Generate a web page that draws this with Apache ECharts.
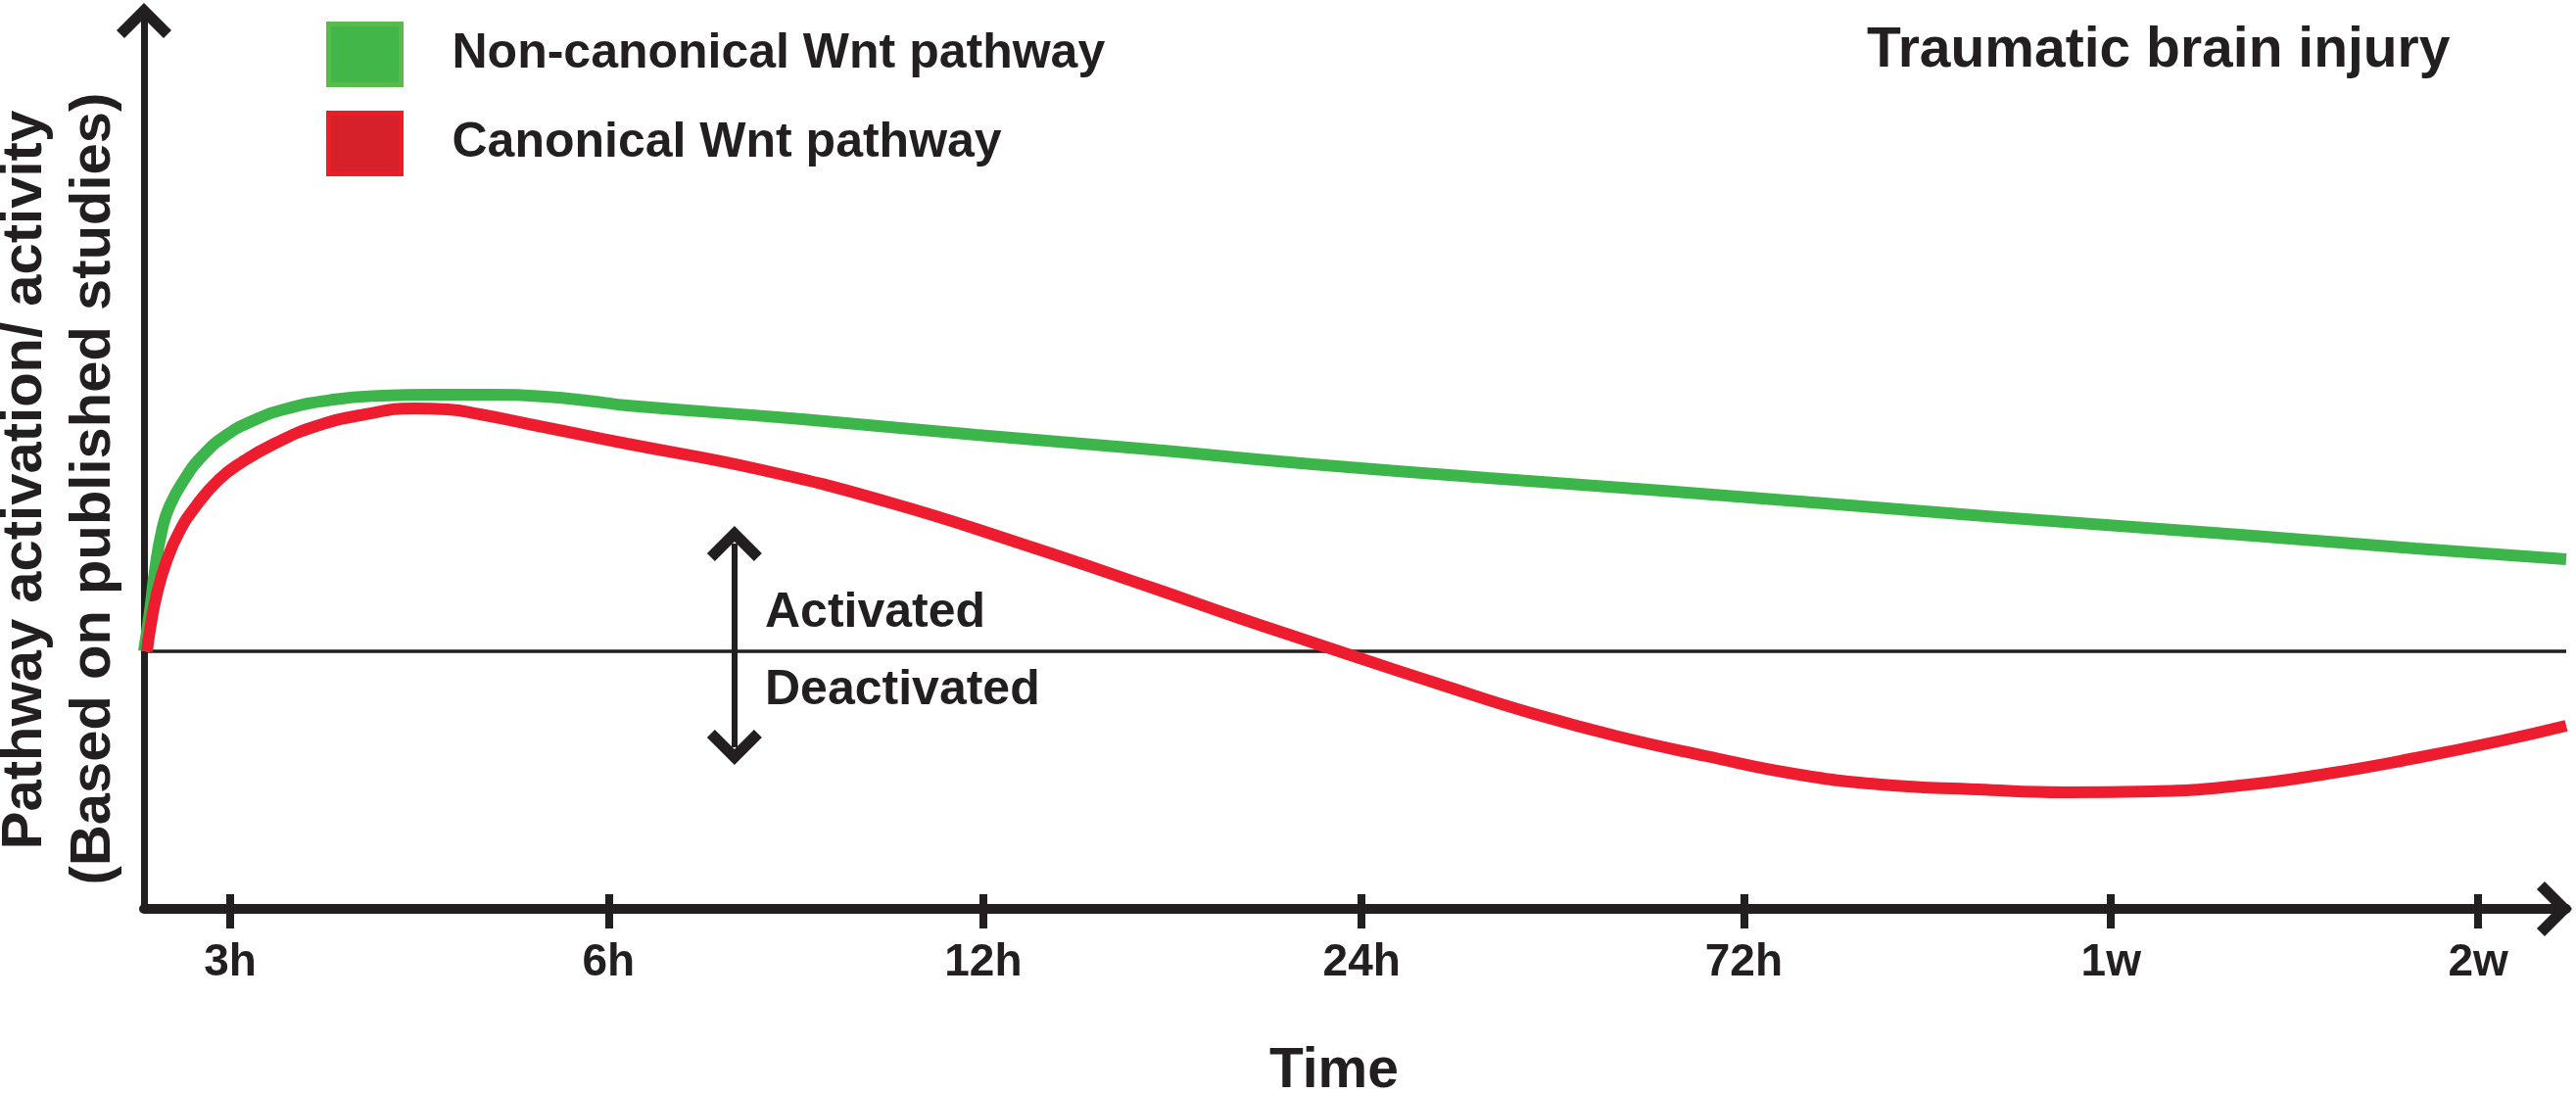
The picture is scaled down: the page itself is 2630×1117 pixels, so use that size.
<!DOCTYPE html>
<html>
<head>
<meta charset="utf-8">
<title>Traumatic brain injury - Wnt pathway activity</title>
<script src="https://cdn.jsdelivr.net/npm/echarts@6/dist/echarts.min.js"></script>
<style>
    html, body {margin: 0; padding: 0; background: #fff;}
    #chart {width: 2630px; height: 1117px;}
</style>
</head>
<body>
<div id="chart"></div>
<script>
// tick positions along the time axis (3h = 1 ... 2w = 7, as drawn)
var tickLabels = ['3h', '6h', '12h', '24h', '72h', '1w', '2w'];
var tickPos = [1, 2.01, 3.01, 4.02, 5.04, 6.02, 7];

// Non-canonical Wnt pathway (activity, 0 = baseline)
var greenX = [0.770, 0.786, 0.799, 0.817, 0.838, 0.882, 0.927, 0.987, 1.058, 1.144, 1.275, 1.405, 1.536, 1.711,
    1.842, 1.973, 2.059, 2.527, 2.992, 3.460, 3.889, 4.357, 4.822, 5.290, 5.719, 6.365, 6.833, 7.235];
var greenY = [0, 0.42, 0.82, 1.22, 1.48, 1.78, 2.00, 2.20, 2.35, 2.47, 2.57, 2.61, 2.62, 2.62,
    2.60, 2.55, 2.51, 2.37, 2.21, 2.06, 1.91, 1.77, 1.64, 1.50, 1.37, 1.19, 1.05, 0.94];

// Canonical Wnt pathway
var redX = [0.778, 0.786, 0.804, 0.830, 0.864, 0.908, 0.969, 1.031, 1.118, 1.230, 1.361, 1.492, 1.580, 1.667,
    1.797, 1.928, 2.059, 2.409, 2.759, 3.110, 3.460, 3.693, 3.889, 4.007, 4.239, 4.472, 4.705, 4.940,
    5.173, 5.405, 5.664, 5.899, 6.132, 6.365, 6.597, 6.833, 7.065, 7.235];
var redY = [0, 0.22, 0.58, 0.92, 1.22, 1.48, 1.75, 1.93, 2.12, 2.30, 2.42, 2.48, 2.47, 2.42,
    2.32, 2.22, 2.12, 1.86, 1.52, 1.10, 0.65, 0.34, 0.09, -0.06, -0.35, -0.63, -0.87, -1.07,
    -1.25, -1.36, -1.41, -1.44, -1.43, -1.37, -1.25, -1.09, -0.91, -0.76];

// activated / deactivated double arrow
var arrowX = 2.346, arrowTop = 1.10, arrowBottom = -0.98;

var seriesNames = ['Non-canonical Wnt pathway', 'Canonical Wnt pathway'];
var ink = '#231f20';
var green = '#3cb54a', red = '#ed1c2e';
var font = '"Liberation Sans", Arial, Helvetica, sans-serif';
var chevron = 'path://M28,0 L56,28 L48,36 L28,16 L8,36 L0,28 Z';

function zip(xs, ys) {
    var out = [];
    for (var i = 0; i < xs.length; i++) {
        out.push([xs[i], ys[i]]);
    }
    return out;
}

var myChart = echarts.init(document.getElementById('chart'));
var option = {
    animation: false,
    textStyle: {fontFamily: font, color: ink},
    grid: {left: 147, right: 10, top: 9, bottom: 189},
    legend: {
        orient: 'vertical',
        left: 333,
        top: 22,
        padding: 0,
        itemWidth: 74,
        itemHeight: 62,
        itemGap: 24,
        selectedMode: false,
        icon: 'rect',
        data: [
            {name: seriesNames[0], itemStyle: {color: '#42b649', borderColor: '#5abb4d', borderWidth: 5}},
            {name: seriesNames[1], itemStyle: {color: '#d6202a', borderColor: '#ee1d25', borderWidth: 5}}
        ],
        textStyle: {fontSize: 50, fontWeight: 'bold', color: ink, fontFamily: font, padding: [0, 0, 0, 47]}
    },
    xAxis: [{
        type: 'value',
        min: 0.770,
        max: 7.235,
        position: 'bottom',
        splitLine: {show: false},
        axisLine: {
            onZero: false,
            lineStyle: {color: ink, width: 10},
            symbol: ['none', chevron],
            symbolSize: [56, 36],
            symbolOffset: [0, -12]
        },
        axisTick: {
            customValues: tickPos,
            length: 20,
            lineStyle: {color: ink, width: 8}
        },
        axisLabel: {
            customValues: tickPos,
            margin: 32,
            fontSize: 46,
            fontWeight: 'bold',
            color: ink,
            formatter: function (v) {
                var i = tickPos.indexOf(v);
                return i >= 0 ? tickLabels[i] : '';
            }
        }
    }, {
        // upper half of the ticks that cross the time axis
        type: 'value',
        min: 0.770,
        max: 7.235,
        position: 'bottom',
        splitLine: {show: false},
        axisLine: {show: false, onZero: false},
        axisLabel: {show: false},
        axisTick: {
            customValues: tickPos,
            inside: true,
            length: 15,
            lineStyle: {color: ink, width: 8}
        }
    }],
    yAxis: {
        type: 'value',
        min: -2.63,
        max: 6.56,
        splitLine: {show: false},
        axisTick: {show: false},
        axisLabel: {show: false},
        axisLine: {
            show: true,
            onZero: false,
            lineStyle: {color: ink, width: 7},
            symbol: ['none', chevron],
            symbolSize: [56, 36],
            symbolOffset: [0, -12]
        }
    },
    graphic: [
        {type: 'text', x: 1906, y: 52, style: {text: 'Traumatic brain injury', font: 'bold 57px ' + font, fill: ink, align: 'left', verticalAlign: 'middle'}},
        {type: 'text', x: 781, y: 626, style: {text: 'Activated', font: 'bold 50px ' + font, fill: ink, align: 'left', verticalAlign: 'middle'}},
        {type: 'text', x: 781, y: 705, style: {text: 'Deactivated', font: 'bold 50px ' + font, fill: ink, align: 'left', verticalAlign: 'middle'}},
        {type: 'text', x: 1362, y: 1094, style: {text: 'Time', font: 'bold 57px ' + font, fill: ink, align: 'center', verticalAlign: 'middle'}},
        {type: 'text', x: 26, y: 490, rotation: Math.PI / 2, style: {text: 'Pathway activation/ activity', font: 'bold 58px ' + font, fill: ink, align: 'center', verticalAlign: 'middle'}},
        {type: 'text', x: 96, y: 499, rotation: Math.PI / 2, style: {text: '(Based on published studies)', font: 'bold 58px ' + font, fill: ink, align: 'center', verticalAlign: 'middle'}}
    ],
    series: [{
        name: seriesNames[0],
        type: 'line',
        data: zip(greenX, greenY),
        showSymbol: false,
        smooth: 0.5,
        z: 3,
        color: green,
        lineStyle: {color: green, width: 12},
        emphasis: {disabled: true},
        markLine: {//baseline between activated and deactivated
            silent: true,
            z: 1,
            symbol: ['none', 'none'],
            label: {show: false},
            lineStyle: {color: ink, width: 3.5, type: 'solid'},
            data: [{yAxis: 0}]
        }
    }, {
        name: seriesNames[1],
        type: 'line',
        data: zip(redX, redY),
        showSymbol: false,
        smooth: 0.5,
        z: 4,
        color: red,
        lineStyle: {color: red, width: 12},
        emphasis: {disabled: true},
        markLine: {//double arrow
            silent: true,
            symbol: [chevron, chevron],
            symbolSize: [56, 36],
            label: {show: false},
            lineStyle: {color: ink, width: 6, type: 'solid'},
            data: [[{coord: [arrowX, arrowTop]}, {coord: [arrowX, arrowBottom]}]]
        }
    }]
};
myChart.setOption(option);
</script>
</body>
</html>
